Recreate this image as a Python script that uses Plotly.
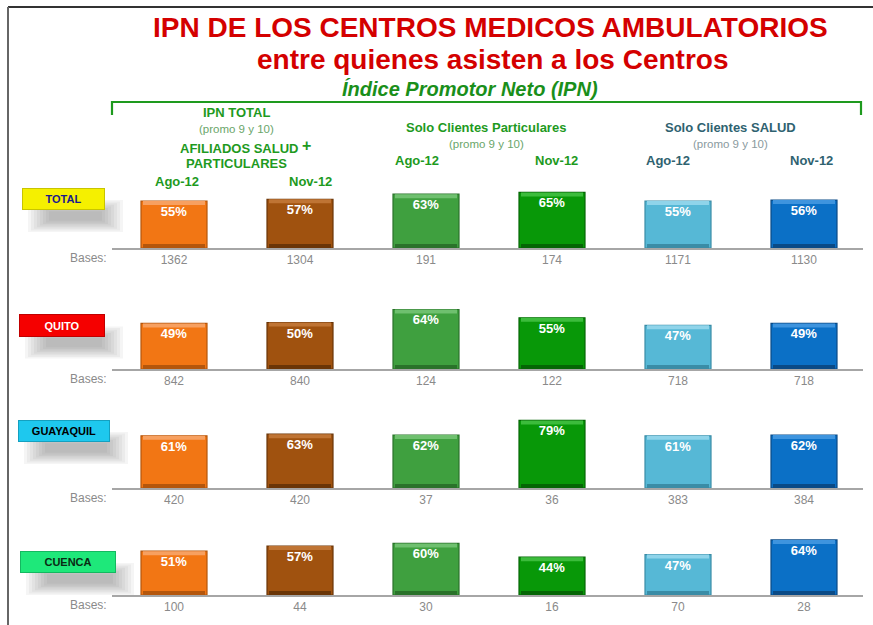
import plotly.graph_objects as go

W, H = 873, 625

categories = ["IPN Total Ago-12", "IPN Total Nov-12", "Particulares Ago-12",
              "Particulares Nov-12", "SALUD Ago-12", "SALUD Nov-12"]
row_names = ["TOTAL", "QUITO", "GUAYAQUIL", "CUENCA"]
ipn_total = [55, 57, 63, 65, 55, 56]
ipn_quito = [49, 50, 64, 55, 47, 49]
ipn_guayaquil = [61, 63, 62, 79, 61, 62]
ipn_cuenca = [51, 57, 60, 44, 47, 64]
bases_total = [1362, 1304, 191, 174, 1171, 1130]
bases_quito = [842, 840, 124, 122, 718, 718]
bases_guayaquil = [420, 420, 37, 36, 383, 384]
bases_cuenca = [100, 44, 30, 16, 70, 28]

values = [ipn_total, ipn_quito, ipn_guayaquil, ipn_cuenca]
bases = [bases_total, bases_quito, bases_guayaquil, bases_cuenca]

bar_fill = ["#F27614", "#A0520F", "#3FA03F", "#089808", "#56B8D6", "#0B70C6"]
bar_light = ["#F7A060", "#BF7434", "#6FC06F", "#3CBC3C", "#8FD4EA", "#3E94DE"]
bar_dark = ["#B4560C", "#6A3507", "#2A722A", "#056605", "#3A8CA6", "#0A4A86"]

# layout geometry (pixels)
baselines = [248, 369, 488, 595]
scales = [0.855, 0.93, 0.855, 0.86]
PANEL_H = 80
x_left, x_right = 112, 863
c0, step = 174, 126
bar_w = 66 / step

def px(x):
    return x / W

def py(y):
    return 1 - y / H

fig = go.Figure()
layout_axes = {}
for i in range(4):
    sfx = "" if i == 0 else str(i + 1)
    xa, ya = "x" + sfx, "y" + sfx
    s = scales[i]
    vals = values[i]
    top_h = 4 / s
    bot_h = 4 / s
    fig.add_trace(go.Bar(x=categories, y=vals, xaxis=xa, yaxis=ya, width=bar_w,
                         marker=dict(color=bar_fill, line=dict(color=bar_dark, width=1.2)),
                         hoverinfo="skip", showlegend=False))
    fig.add_trace(go.Bar(x=categories, y=[top_h] * 6, base=[v - top_h for v in vals],
                         xaxis=xa, yaxis=ya, width=bar_w * 0.94,
                         marker=dict(color=bar_light, line=dict(width=0)),
                         hoverinfo="skip", showlegend=False))
    fig.add_trace(go.Bar(x=categories, y=[bot_h] * 6, base=[0] * 6,
                         xaxis=xa, yaxis=ya, width=bar_w * 0.94,
                         marker=dict(color=bar_dark, line=dict(width=0)),
                         hoverinfo="skip", showlegend=False))
    fig.add_trace(go.Bar(x=categories, y=vals, xaxis=xa, yaxis=ya, width=bar_w,
                         marker=dict(color="rgba(0,0,0,0)", line=dict(width=0)),
                         text=[f"{v}%" for v in vals], textposition="inside",
                         insidetextanchor="end", textangle=0,
                         textfont=dict(color="white", size=13,
                                       family="Liberation Sans, Arial", weight="bold"),
                         hoverinfo="skip", showlegend=False))
    b = baselines[i]
    rng_x = [-(c0 - x_left) / step, 5 + (x_right - (c0 + 5 * step)) / step]
    layout_axes["xaxis" + sfx] = dict(
        domain=[px(x_left), px(x_right)], anchor=ya, range=rng_x,
        type="category", categoryorder="array", categoryarray=categories,
        tickvals=categories, ticktext=[str(v) for v in bases[i]],
        tickfont=dict(size=12, color="#8a8a8a", family="Liberation Sans, Arial"),
        ticks="", ticklen=0, showline=True, linecolor="#a6a6a6", linewidth=1.5,
        showgrid=False, zeroline=False, fixedrange=True)
    layout_axes["yaxis" + sfx] = dict(
        domain=[py(b), py(b - PANEL_H)], anchor=xa, range=[0, PANEL_H / s],
        visible=False, showgrid=False, zeroline=False, fixedrange=True)

fig.update_layout(**layout_axes)

annotations = []
shapes = []

def ann(text, x, y, size, color, bold=True, italic=False, xanchor="center", family="Liberation Sans, Arial"):
    t = text
    if bold:
        t = f"<b>{t}</b>"
    if italic:
        t = f"<i>{t}</i>"
    annotations.append(dict(text=t, x=px(x), y=py(y), xref="paper", yref="paper",
                            xanchor=xanchor, yanchor="middle", showarrow=False,
                            font=dict(size=size, color=color, family=family)))

# Titles
ann("IPN DE LOS CENTROS MEDICOS AMBULATORIOS", 490, 28, 28, "#D40000")
ann("entre quienes asisten a los Centros", 493, 60, 28, "#D40000")
ann("Índice Promotor Neto (IPN)", 470, 89, 20, "#1A8F1A", italic=True)

# Brace
shapes.append(dict(type="path", xref="paper", yref="paper",
                   path=f"M {px(112)} {py(115)} L {px(112)} {py(102)} L {px(861)} {py(102)} L {px(861)} {py(115)}",
                   line=dict(color="#1E9A1E", width=2.2)))

green = "#1E9A1E"
lgreen = "#6AA66A"
teal = "#2F6270"
grey = "#8A9A9E"
ann("IPN TOTAL", 237, 113, 13, green)
ann("(promo 9 y 10)", 237, 129, 11.5, lgreen, bold=False)
ann("AFILIADOS SALUD", 239, 148, 13, green)
ann("+", 306, 145, 16, green)
ann("PARTICULARES", 237, 164, 13, green)
ann("Ago-12", 177, 181, 13, green)
ann("Nov-12", 310, 181, 13, green)
ann("Solo Clientes Particulares", 486, 128, 13, green)
ann("(promo 9 y 10)", 486, 144, 11.5, lgreen, bold=False)
ann("Ago-12", 417, 160, 13, green)
ann("Nov-12", 556, 160, 13, green)
ann("Solo Clientes SALUD", 730, 128, 13, teal)
ann("(promo 9 y 10)", 730, 144, 11.5, grey, bold=False)
ann("Ago-12", 668, 160, 13, teal)
ann("Nov-12", 811, 160, 13, teal)

# Bases labels
for b in baselines:
    ann("Bases:", 109, b + 10, 12, "#8a8a8a", bold=False, xanchor="right")

# Row labels with soft shadow
label_boxes = [
    (22, 105, 188, 210, "#F5F000", "#1A1A8C", "#C8C400"),
    (19, 105, 314, 337, "#F50000", "#FFFFFF", "#C00000"),
    (18, 110, 420, 442, "#1EC8EE", "#000000", "#14A0C0"),
    (20, 116, 551, 573, "#1EE87A", "#0A2A14", "#14B860"),
]
for name, (x0, x1, y0, y1, fill, tcol, bcol) in zip(row_names, label_boxes):
    cx = (x0 + x1) / 2 + 12
    cy = (y0 + y1) / 2 + 17
    hw0 = (x1 - x0) / 2
    for k in range(8):
        hw = hw0 + 6 - k * 3
        hh = 16 - k * 1.6
        shapes.append(dict(type="rect", xref="paper", yref="paper", layer="below",
                           x0=px(cx - hw), x1=px(cx + hw),
                           y0=py(cy + hh), y1=py(cy - hh),
                           fillcolor="rgba(70,70,70,0.055)", line=dict(width=0)))
    annotations.append(dict(text=f"<b>{name}</b>", x=px((x0 + x1) / 2), y=py((y0 + y1) / 2),
                            xref="paper", yref="paper", xanchor="center", yanchor="middle",
                            showarrow=False, width=x1 - x0 - 2, height=y1 - y0 - 2,
                            bgcolor=fill, bordercolor=bcol, borderwidth=1, borderpad=0,
                            valign="middle",
                            font=dict(size=11, color=tcol, family="Liberation Sans, Arial")))

# Frame lines
shapes.append(dict(type="line", xref="paper", yref="paper", x0=px(8), x1=1, y0=py(7), y1=py(7),
                   line=dict(color="#333333", width=2)))
shapes.append(dict(type="line", xref="paper", yref="paper", x0=px(8), x1=px(8), y0=py(7), y1=0,
                   line=dict(color="#666666", width=2)))

fig.update_layout(
    width=W, height=H, margin=dict(l=0, r=0, t=0, b=0),
    paper_bgcolor="white", plot_bgcolor="rgba(0,0,0,0)",
    barmode="overlay", showlegend=False,
    annotations=annotations, shapes=shapes,
    font=dict(family="Liberation Sans, Arial"),
    uniformtext=dict(minsize=13, mode="show"),
)

fig.write_html("out.html", config={"displayModeBar": False},
               post_script="document.body.style.margin='0';document.body.style.overflow='hidden';")
